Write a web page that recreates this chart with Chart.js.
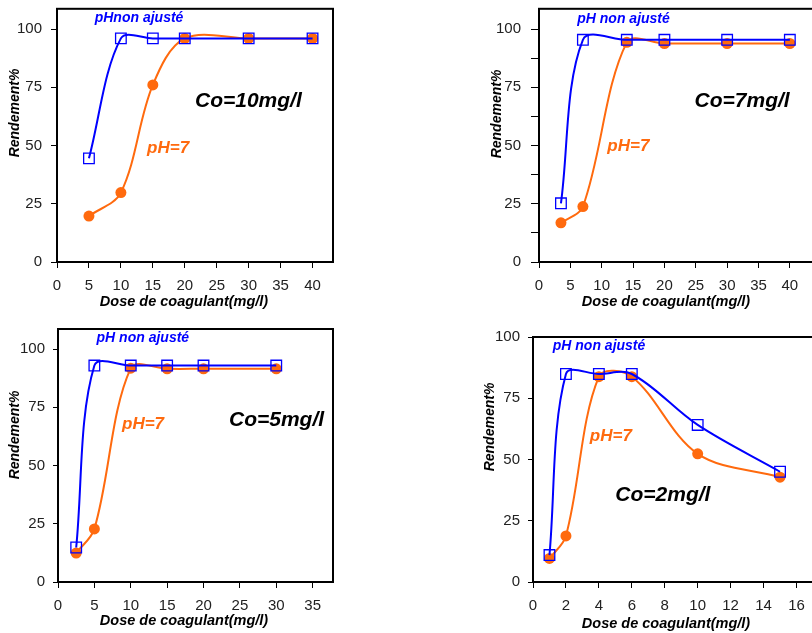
<!DOCTYPE html>
<html>
<head>
<meta charset="utf-8">
<script src="https://cdn.jsdelivr.net/npm/chart.js@4/dist/chart.umd.min.js"></script>
<style>
  html, body { margin: 0; padding: 0; background: #fff; overflow: hidden; }
  body { position: relative; width: 812px; height: 633px; }
  canvas { position: absolute; }
</style>
</head>
<body>
<canvas id="c10" width="345" height="312" style="left:0px;top:0px"></canvas>
<canvas id="c7" width="360" height="312" style="left:470px;top:0px"></canvas>
<canvas id="c5" width="345" height="313" style="left:0px;top:320px"></canvas>
<canvas id="c2" width="360" height="313" style="left:470px;top:320px"></canvas>
<script>
// Co = 10 mg/l
const dose10 = [5, 10, 15, 20, 30, 40];
const nonAjuste10 = [44.5, 96, 96, 96, 96, 96];
const ph7_10 = [19.7, 29.8, 76, 96, 96, 96];

// Co = 7 mg/l
const dose7 = [3.5, 7, 14, 20, 30, 40];
const nonAjuste7 = [25.2, 95.4, 95.4, 95.4, 95.4, 95.4];
const ph7_7 = [16.8, 23.8, 94.3, 93.8, 93.8, 93.8];

// Co = 5 mg/l
const dose5 = [2.5, 5, 10, 15, 20, 30];
const nonAjuste5 = [14.8, 92.9, 92.9, 92.9, 92.9, 92.9];
const ph7_5 = [12.4, 22.8, 91.8, 91.5, 91.5, 91.5];

// Co = 2 mg/l
const dose2 = [1, 2, 4, 6, 10, 15];
const nonAjuste2 = [11, 84.9, 84.9, 84.9, 64.1, 45];
const ph7_2 = [9.6, 18.8, 83.8, 83.8, 52.3, 42.8];

// tick values
const yTicksMajor = [0, 25, 50, 75, 100];
const yTicksMinor = [0, 12.5, 25, 37.5, 50, 62.5, 75, 87.5, 100];
const xTicks40 = [0, 5, 10, 15, 20, 25, 30, 35, 40];
const xTicks35 = [0, 5, 10, 15, 20, 25, 30, 35];
const xTicks16 = [0, 2, 4, 6, 8, 10, 12, 14, 16];

const labelNonAjuste = 'pH non ajusté';
const labelPh7 = 'pH=7';
const titleX = 'Dose de coagulant(mg/l)';
const titleY = 'Rendement%';

const BLUE = '#0000ff';
const ORANGE = '#ff6a0e';
const FONT = '"Liberation Sans", Arial, sans-serif';

// frame, notes and axis titles
const decor = {
  id: 'decor',
  beforeDatasetsDraw(chart) {
    const { ctx, chartArea: a } = chart;
    ctx.save();
    ctx.strokeStyle = '#000';
    ctx.lineWidth = 2;
    ctx.strokeRect(a.left, a.top, a.right - a.left, a.bottom - a.top);
    ctx.restore();
  },
  afterDraw(chart, args, opts) {
    const { ctx, scales: { x, y } } = chart;
    ctx.save();
    ctx.textBaseline = 'middle';
    ctx.textAlign = 'left';
    (opts.notes || []).forEach(n => {
      ctx.font = 'italic bold ' + n.size + 'px ' + FONT;
      ctx.fillStyle = n.color;
      ctx.fillText(n.text, x.getPixelForValue(n.x), y.getPixelForValue(n.y));
    });
    ctx.fillStyle = '#000';
    ctx.textAlign = 'center';
    ctx.font = 'italic bold 14.5px ' + FONT;
    ctx.fillText(titleX, opts.xTitle[0], opts.xTitle[1]);
    ctx.translate(opts.yTitle[0], opts.yTitle[1]);
    ctx.rotate(-Math.PI / 2);
    ctx.font = 'italic bold 14px ' + FONT;
    ctx.fillText(titleY, 0, 0);
    ctx.restore();
  }
};

function makeChart(id, p) {
  const canvas = document.getElementById(id);
  const W = canvas.width, H = canvas.height;
  const yTickVals = p.yTicks;
  new Chart(canvas, {
    type: 'line',
    data: {
      datasets: [
        {
          label: labelNonAjuste,
          data: p.dose.map((d, i) => ({ x: d, y: p.blue[i] })),
          borderColor: BLUE,
          borderWidth: 2,
          backgroundColor: 'rgba(0,0,0,0)',
          pointStyle: 'rect',
          pointRadius: 7.5,
          pointBorderWidth: 1.3,
          pointBorderColor: BLUE,
          pointBackgroundColor: 'rgba(0,0,0,0)',
          tension: 0.34
        },
        {
          label: labelPh7,
          data: p.dose.map((d, i) => ({ x: d, y: p.orange[i] })),
          borderColor: ORANGE,
          borderWidth: 2,
          backgroundColor: ORANGE,
          pointStyle: 'circle',
          pointRadius: 5.5,
          pointBorderWidth: 0,
          pointBackgroundColor: ORANGE,
          tension: 0.34
        }
      ]
    },
    options: {
      responsive: false,
      animation: false,
      devicePixelRatio: 1,
      layout: { padding: { left: 0, top: p.area.top, right: W - p.area.right, bottom: 0 } },
      scales: {
        x: {
          type: 'linear',
          min: 0,
          max: p.xMax,
          afterBuildTicks: s => { s.ticks = p.xTicks.map(v => ({ value: v })); },
          afterFit: s => {
            s.height = H - p.area.bottom;
            s.paddingLeft = 0;
            s.paddingRight = 0;
          },
          border: { display: false },
          grid: { drawOnChartArea: false, drawTicks: true, tickLength: 6, color: '#000', lineWidth: 1 },
          ticks: { color: '#222', font: { family: FONT, size: 15 }, padding: 9, maxRotation: 0, autoSkip: false }
        },
        y: {
          type: 'linear',
          min: 0,
          max: p.yMax,
          afterBuildTicks: s => { s.ticks = yTickVals.map(v => ({ value: v })); },
          afterFit: s => {
            s.width = p.area.left;
            s.paddingTop = 0;
            s.paddingBottom = 0;
          },
          border: { display: false },
          grid: { drawOnChartArea: false, drawTicks: true, tickLength: p.yTickLen, color: '#000', lineWidth: 1 },
          ticks: {
            color: '#222',
            font: { family: FONT, size: 15 },
            padding: p.yPad,
            autoSkip: false,
            callback: v => (v % 25 === 0 ? String(v) : '')
          }
        }
      },
      plugins: {
        legend: { display: false },
        tooltip: { enabled: false },
        decor: { notes: p.notes, xTitle: p.xTitle, yTitle: p.yTitle }
      }
    },
    plugins: [decor]
  });
}

makeChart('c10', {
  dose: dose10, blue: nonAjuste10, orange: ph7_10,
  xMax: 43.2, yMax: 108.7, xTicks: xTicks40, yTicks: yTicksMajor,
  area: { left: 57, top: 8, right: 333, bottom: 262 },
  yTickLen: 6, yPad: 9,
  xTitle: [184, 302], yTitle: [15, 113],
  notes: [
    { text: 'pHnon ajusté', x: 5.9, y: 104.7, size: 14, color: BLUE },
    { text: 'Co=10mg/l', x: 21.6, y: 69.2, size: 21, color: '#000' },
    { text: labelPh7, x: 14.1, y: 48.7, size: 17, color: ORANGE }
  ]
});

makeChart('c7', {
  dose: dose7, blue: nonAjuste7, orange: ph7_7,
  xMax: 45, yMax: 108.7, xTicks: xTicks40, yTicks: yTicksMinor,
  area: { left: 69, top: 8, right: 355, bottom: 262 },
  yTickLen: 8, yPad: 10,
  xTitle: [196, 302], yTitle: [27, 114],
  notes: [
    { text: labelNonAjuste, x: 6.1, y: 104.3, size: 14, color: BLUE },
    { text: 'Co=7mg/l', x: 24.8, y: 69.2, size: 21, color: '#000' },
    { text: labelPh7, x: 10.9, y: 49.6, size: 17, color: ORANGE }
  ]
});

makeChart('c5', {
  dose: dose5, blue: nonAjuste5, orange: ph7_5,
  xMax: 37.8, yMax: 108.6, xTicks: xTicks35, yTicks: yTicksMajor,
  area: { left: 58, top: 9, right: 333, bottom: 262 },
  yTickLen: 5, yPad: 8,
  xTitle: [184, 301], yTitle: [15, 115],
  notes: [
    { text: labelNonAjuste, x: 5.3, y: 104.8, size: 14, color: BLUE },
    { text: 'Co=5mg/l', x: 23.5, y: 69.5, size: 21, color: '#000' },
    { text: labelPh7, x: 8.8, y: 67.8, size: 17, color: ORANGE }
  ]
});

makeChart('c2', {
  dose: dose2, blue: nonAjuste2, orange: ph7_2,
  xMax: 17.5, yMax: 100, xTicks: xTicks16, yTicks: yTicksMajor,
  area: { left: 63, top: 17, right: 355, bottom: 262 },
  yTickLen: 5, yPad: 8,
  xTitle: [196, 304], yTitle: [20, 107],
  notes: [
    { text: labelNonAjuste, x: 1.2, y: 96.1, size: 14, color: BLUE },
    { text: labelPh7, x: 3.45, y: 59.3, size: 17, color: ORANGE },
    { text: 'Co=2mg/l', x: 5.0, y: 35.5, size: 21, color: '#000' }
  ]
});
</script>
</body>
</html>
